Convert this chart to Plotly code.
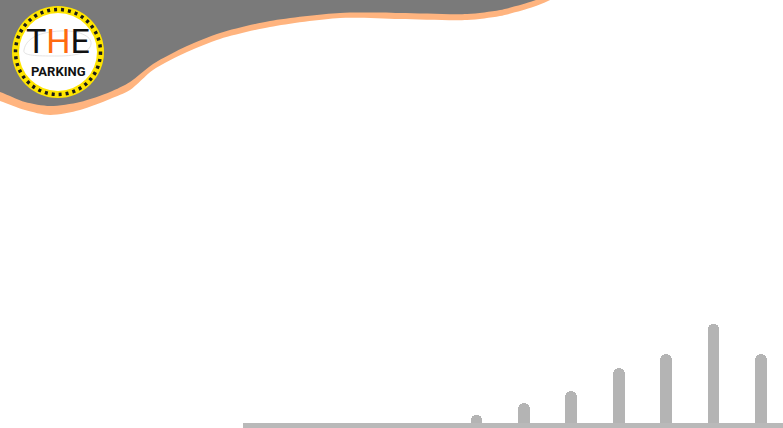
import plotly.graph_objects as go

# ---- data ----
bar_labels = ["1", "2", "3", "4", "5", "6", "7"]
bar_values = [8, 20, 32, 55, 69, 99, 69]

# decorative header wave (pixel space, y measured from top)
wave_x = [-40, 0, 25, 50, 80, 110, 130, 153, 187, 220, 270, 340, 400, 467, 500, 533, 548, 600]
gray_edge_y = [80, 92, 102, 106, 102, 92, 82, 64, 46, 33, 21, 13, 13, 14, 10, 1, -5, -40]
orange_edge_y = [88, 101, 110, 115, 110, 99, 90, 70, 52, 39, 27, 18, 19, 20, 16, 7, 1, -30]

W, H = 783, 428
GRAY = "#7a7a7a"
ORANGE = "#ffb47f"
BAR = "#b4b4b4"
FONT = "Roboto, sans-serif"

fig = go.Figure()

# orange band (drawn first), then gray header over it
for ys, col in [(orange_edge_y, ORANGE), (gray_edge_y, GRAY)]:
    fig.add_trace(go.Scatter(
        x=wave_x + [700, -40], y=ys + [-300, -300],
        mode="lines", line=dict(width=0, shape="spline", smoothing=0.8),
        fill="toself", fillcolor=col, hoverinfo="skip", xaxis="x", yaxis="y"))

# bars on their own overlaid axes
fig.add_trace(go.Bar(
    x=list(range(len(bar_labels))), y=bar_values, width=0.25,
    marker=dict(color=BAR, cornerradius="50%", line=dict(width=0)),
    xaxis="x2", yaxis="y2", hoverinfo="skip"))

shapes = [
    # base strip
    dict(type="rect", xref="x", yref="y", x0=243, x1=783, y0=423, y1=428,
         fillcolor="#b9b9b9", line=dict(width=0), layer="above"),
    # logo ring
    dict(type="circle", xref="x", yref="y", x0=58 - 46, x1=58 + 46, y0=52 - 46, y1=52 + 46,
         fillcolor="#ffe500", line=dict(width=0), layer="above"),
    dict(type="circle", xref="x", yref="y", x0=58 - 42.5, x1=58 + 42.5, y0=52 - 42.5, y1=52 + 42.5,
         fillcolor="rgba(0,0,0,0)", line=dict(color="#1a1a1a", width=3.5, dash="3px,4px"), layer="above"),
    dict(type="circle", xref="x", yref="y", x0=58 - 39, x1=58 + 39, y0=52 - 39, y1=52 + 39,
         fillcolor="white", line=dict(width=0), layer="above"),
    # faint car sketch
    dict(type="path", xref="x", yref="y", layer="above",
         path="M 24 50 C 26 38, 40 32, 60 31 C 78 30, 92 36, 91 44 C 90 52, 78 56, 58 56 C 38 56, 22 56, 24 50 Z",
         fillcolor="rgba(0,0,0,0)", line=dict(color="#e4e4e4", width=1)),
]

annotations = [
    dict(x=58, y=41, xref="x", yref="y", showarrow=False,
         text='<span style="color:#111111">T</span><span style="color:#ff6a10">H</span>'
              '<span style="color:#111111">E</span>',
         font=dict(family=FONT, size=34, color="#111111")),
    dict(x=58, y=71, xref="x", yref="y", showarrow=False,
         text='<b>PARKING</b>',
         font=dict(family=FONT, size=13, color="#111111")),
]

# bar axis mapping: index i -> pixel 476.5 + 47.4*i
step = 47.4
first = 476.5
x2_range = [(0 - first) / step, (W - first) / step]

fig.update_layout(
    width=W, height=H, margin=dict(l=0, r=0, t=0, b=0, pad=0),
    paper_bgcolor="white", plot_bgcolor="white", showlegend=False,
    xaxis=dict(range=[0, W], visible=False, fixedrange=True, domain=[0, 1]),
    yaxis=dict(range=[H, 0], visible=False, fixedrange=True, domain=[0, 1]),
    xaxis2=dict(range=x2_range, visible=False, overlaying="x", fixedrange=True),
    yaxis2=dict(range=[-5, 423], visible=False, overlaying="y", fixedrange=True),
    shapes=shapes, annotations=annotations, bargap=0,
)

fig.write_html("out.html", config={"displayModeBar": False})
